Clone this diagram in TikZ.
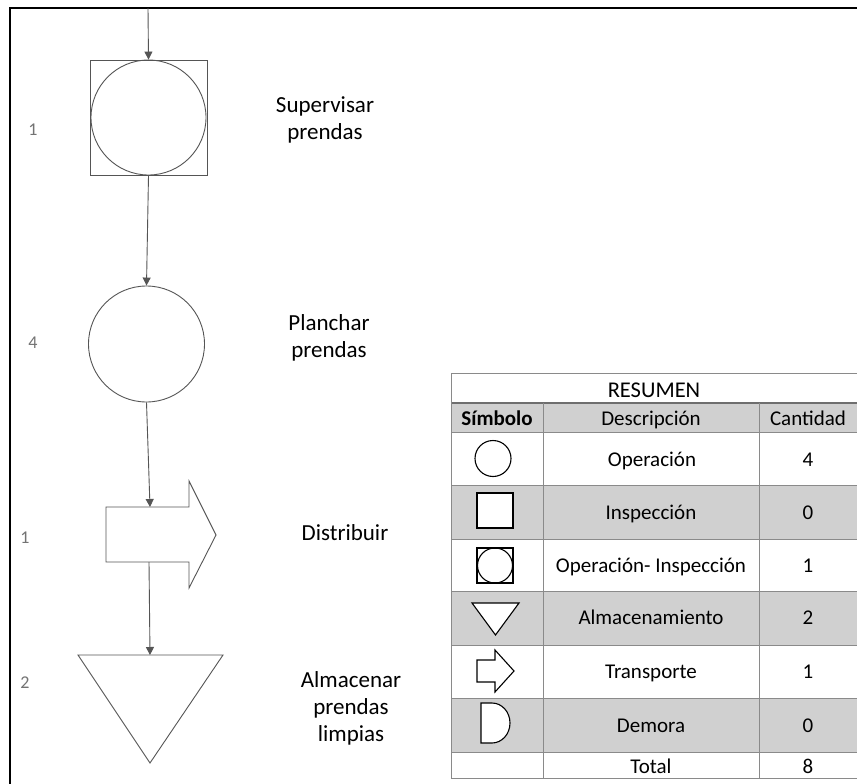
\documentclass[tikz,border=0pt]{standalone}
\usepackage{fontspec}
\setmainfont{Carlito}
\usetikzlibrary{arrows.meta}
\definecolor{flowline}{HTML}{555555}
\definecolor{cellgray}{HTML}{D0D0D0}
\definecolor{gridgray}{HTML}{8A8A8A}
\begin{document}
\begin{tikzpicture}[x=1pt,y=-1pt,
  shapeline/.style={draw=flowline,line width=0.9pt},
  flowarrow/.style={draw=flowline,line width=0.9pt,-{Triangle[length=8pt,width=8pt]}},
  steplabel/.style={font=\fontsize{23}{27}\selectfont,align=center,text=black},
  stepnum/.style={font=\fontsize{18}{20}\selectfont,text=black!55},
  cell/.style={font=\fontsize{21}{24}\selectfont,text=black,anchor=base,inner sep=0pt},
  sym/.style={draw=black,line width=1.1pt},
  grid/.style={draw=gridgray,line width=0.9pt}]
\useasboundingbox (0,0) rectangle (857,784);
\fill[white] (0,0) rectangle (857,784);

% page frame
\draw[black,line width=2pt] (10,784) -- (10,8) -- (857,8);

% flow shapes
\coordinate (start) at (148,8);
\node[shapeline,rectangle,minimum width=117pt,minimum height=115pt,inner sep=0pt] (sup) at (148.5,117.5) {};
\draw[shapeline] (sup.center) circle[radius=57.5];
\node[shapeline,circle,minimum size=116pt,inner sep=0pt] (plan) at (146.5,344) {};

% transport arrow
\draw[shapeline] (106,507) -- (189,507) -- (189,481) -- (216,535) -- (189,588) -- (189,562) -- (106,562) -- cycle;
\coordinate (distIn) at (150,507);
\coordinate (distOut) at (149,562);

% storage triangle
\draw[shapeline] (78,655) -- (223,655) -- (150,763) -- cycle;
\coordinate (almIn) at (150,655);

% connectors
\draw[flowarrow] (start) -- (sup.north);
\draw[flowarrow] (sup.south) -- (plan.north);
\draw[flowarrow] (plan.south) -- (distIn);
\draw[flowarrow] (distOut) -- (almIn);

% step numbers
\node[stepnum] (n1) at (33,130) {1};
\node[stepnum] (n2) at (33,343) {4};
\node[stepnum] (n3) at (25,538) {1};
\node[stepnum] (n4) at (25,683) {2};

% step descriptions
\node[steplabel] (l1) at (325,120) {Supervisar\\prendas};
\node[steplabel] (l2) at (329,338) {Planchar\\prendas};
\node[steplabel] (l3) at (345,533) {Distribuir};
\node[steplabel] (l4) at (351,708) {Almacenar\\prendas\\limpias};

% summary table: shaded rows
\fill[cellgray] (451,403) rectangle (857,432);
\fill[cellgray] (451,485) rectangle (857,539);
\fill[cellgray] (451,591) rectangle (857,645);
\fill[cellgray] (451,698) rectangle (857,752);

% summary table: rules
\foreach \yy in {373,432,485,539,591,645,698,752,778}
  \draw[grid] (451,\yy) -- (857,\yy);
\draw[draw=gridgray!80!black,line width=1.6pt] (451,403) -- (857,403);
\draw[grid] (451,373) -- (451,778);
\draw[grid] (543,403) -- (543,778);
\draw[grid] (759,403) -- (759,778);

% summary table: text
\node[cell,font=\fontsize{22.5}{24}\selectfont] (tt) at (654,397) {RESUMEN};
\node[cell,font=\fontsize{21}{24}\selectfont\bfseries] (h1) at (497,425) {Símbolo};
\node[cell] (h2) at (651,425) {Descripción};
\node[cell] (h3) at (808,425) {Cantidad};
\node[cell] (d1) at (652,466) {Operación};
\node[cell] (c1) at (808,466) {4};
\node[cell] (d2) at (651,519) {Inspección};
\node[cell] (c2) at (808,519) {0};
\node[cell] (d3) at (651,572) {Operación- Inspección};
\node[cell] (c3) at (808,572) {1};
\node[cell] (d4) at (651,624.5) {Almacenamiento};
\node[cell] (c4) at (808,624.5) {2};
\node[cell] (d5) at (651,678) {Transporte};
\node[cell] (c5) at (808,678) {1};
\node[cell] (d6) at (651,732) {Demora};
\node[cell] (c6) at (808,732) {0};
\node[cell] (d7) at (651,773) {Total};
\node[cell] (c7) at (808,773) {8};

% summary table: symbols
\draw[sym,fill=white] (493,458.5) circle[radius=18];
\draw[sym,fill=white] (477,493) rectangle (513,528);
\draw[sym,fill=white] (477,548) rectangle (513,583);
\draw[sym] (495,565.5) circle[radius=17.5];
\draw[sym,fill=white] (472,603) -- (519,603) -- (495.5,635) -- cycle;
\draw[sym,fill=white] (477,660) -- (495,660) -- (495,650) -- (514,671) -- (495,692) -- (495,682) -- (477,682) -- cycle;
\draw[sym,fill=white] (481,743) -- (481,703) -- (492,703) arc[start angle=-90,end angle=90,x radius=18,y radius=20] -- cycle;
\end{tikzpicture}
\end{document}
